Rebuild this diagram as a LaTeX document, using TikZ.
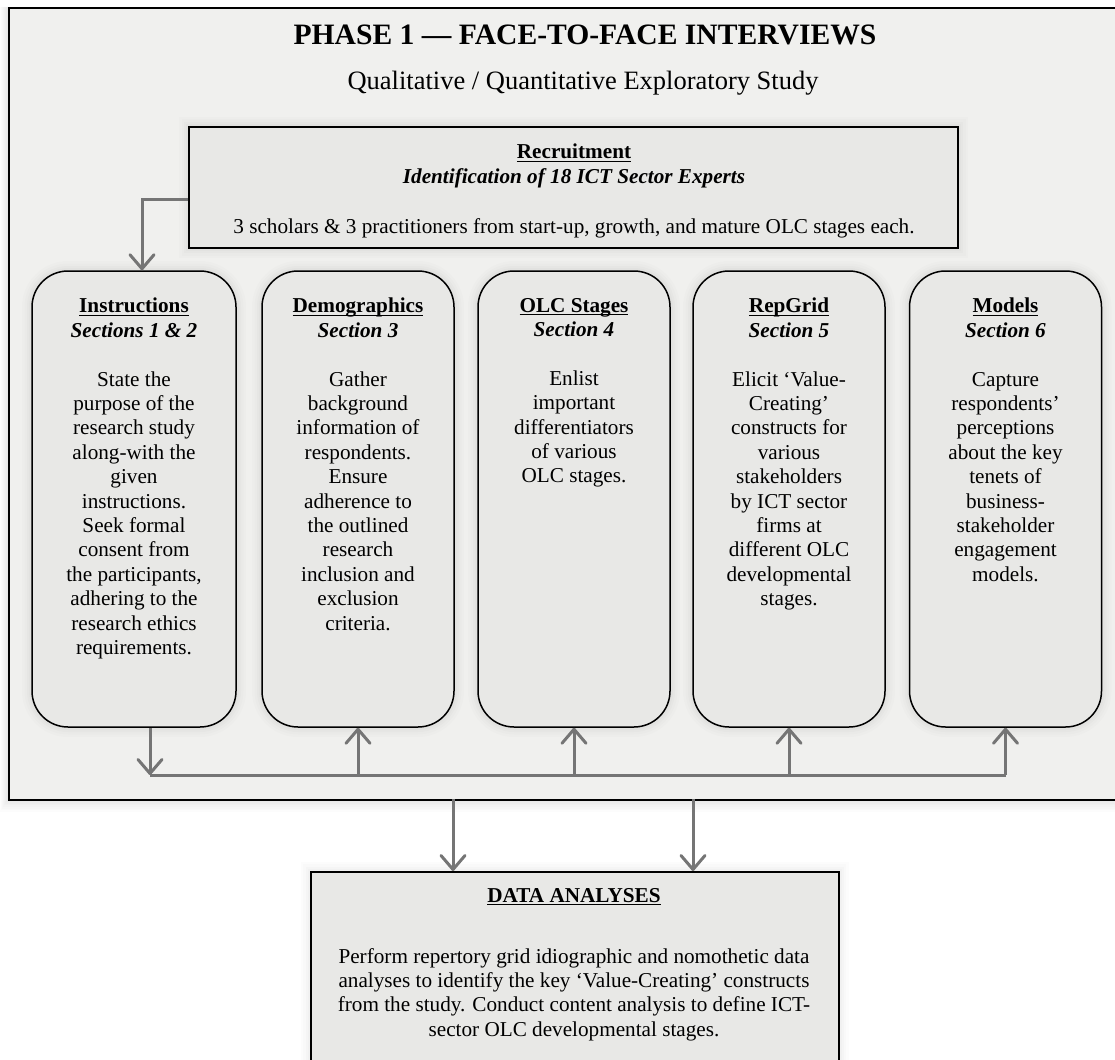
\documentclass[tikz,border=0pt]{standalone}
\usepackage{fontspec}
\setmainfont{Liberation Serif}
\usetikzlibrary{arrows.meta}
\definecolor{panelfill}{HTML}{F0F0EE}
\definecolor{cardfill}{HTML}{E8E8E6}
\definecolor{arrowgray}{HTML}{757575}
\newsavebox{\ulbox}
\newcommand{\ulword}[1]{\sbox{\ulbox}{#1}\rlap{\rule[-3pt]{\wd\ulbox}{1.3pt}}\usebox{\ulbox}}
\begin{document}
\begin{tikzpicture}[x=1pt,y=-1pt,
  glow/.style={preaction={draw=black, draw opacity=0.010, line width=20pt},
               preaction={draw=black, draw opacity=0.012, line width=15pt},
               preaction={draw=black, draw opacity=0.014, line width=10pt},
               preaction={draw=black, draw opacity=0.016, line width=6pt}},
  panel/.style={draw=black, line width=1.8pt, fill=panelfill},
  card/.style={glow, draw=black, line width=1.5pt, fill=cardfill, rounded corners=36pt, minimum width=192pt, minimum height=456pt, inner sep=0pt},
  flatcard/.style={glow, draw=black, line width=1.5pt, fill=cardfill, inner sep=0pt},
  bodytext/.style={font=\fontsize{21.2}{24.4}\selectfont, align=center, inner sep=0pt, anchor=north},
  flow/.style={draw=arrowgray, line width=3pt, -{Straight Barb[length=14pt, width=24pt, round]}},
  bus/.style={draw=arrowgray, line width=3pt}]

\useasboundingbox (0,0) rectangle (1115,1059);
\clip (0,0) rectangle (1115,1059);
\fill[white] (0,0) rectangle (1115,1059);

% soft shadow under the phase panel
\foreach \k in {1,...,8}{
  \fill[black, opacity=0.012] (8-\k,7) rectangle (1130,799+1.6*\k);
}
% phase panel (runs off the right edge)
\node[panel, minimum width=1122pt, minimum height=792pt, inner sep=0pt, anchor=north west] (phase) at (8,7) {};

\node[anchor=base, font=\bfseries\fontsize{29.6}{34}\selectfont] (title) at (585,45) {PHASE 1 — FACE-TO-FACE INTERVIEWS};
\node[anchor=base, font=\fontsize{26.5}{30}\selectfont] (subtitle) at (583,90) {Qualitative / Quantitative Exploratory Study};

% recruitment box
\node[flatcard, minimum width=769pt, minimum height=121pt] (recruit) at (573.5,187.5) {};
\node[bodytext] (recruittxt) at (574,143.9) {\ulword{\textbf{Recruitment}}\\
  \textbf{\textit{Identification of 18 ICT Sector Experts}}\\[26pt]
  3 scholars \& 3 practitioners from start-up, growth, and mature OLC stages each.};

% questionnaire section cards
\node[card, minimum width=204pt] (instr) at (134,499) {};
\node[card] (demo)  at (358,499) {};
\node[card] (olc)   at (574,499) {};
\node[card] (rep)   at (789,499) {};
\node[card] (model) at (1005.5,499) {};

\node[bodytext] (instrtxt) at (134,297.9) {\ulword{\textbf{Instructions}}\\
  \textbf{\textit{Sections 1 \& 2}}\\[24.4pt]
  State the\\ purpose of the\\ research study\\ along-with the\\ given\\ instructions.\\
  Seek formal\\ consent from\\ the participants,\\ adhering to the\\ research ethics\\ requirements.};
\node[bodytext] (demotxt) at (358,297.9) {\ulword{\textbf{Demographics}}\\
  \textbf{\textit{Section 3}}\\[24.4pt]
  Gather\\ background\\ information of\\ respondents.\\ Ensure\\ adherence to\\
  the outlined\\ research\\ inclusion and\\ exclusion\\ criteria.};
\node[bodytext] (olctxt) at (574,297.9) {\ulword{\textbf{OLC Stages}}\\
  \textbf{\textit{Section 4}}\\[24.4pt]
  Enlist\\ important\\ differentiators\\ of various\\ OLC stages.};
\node[bodytext] (reptxt) at (789,297.9) {\ulword{\textbf{RepGrid}}\\
  \textbf{\textit{Section 5}}\\[24.4pt]
  Elicit ‘Value-\\ Creating’\\ constructs for\\ various\\ stakeholders\\
  by ICT sector\\ firms at\\ different OLC\\ developmental\\ stages.};
\node[bodytext] (modeltxt) at (1005.5,297.9) {\ulword{\textbf{Models}}\\
  \textbf{\textit{Section 6}}\\[24.4pt]
  Capture\\ respondents’\\ perceptions\\ about the key\\ tenets of\\ business-\\
  stakeholder\\ engagement\\ models.};

% data analyses box (runs off the bottom edge)
\node[flatcard, minimum width=528pt, minimum height=200pt, anchor=north west] (data) at (310,871) {};
\node[bodytext] (datatxt) at (574,887.9) {\ulword{\textbf{DATA ANALYSES}}\\[36.6pt]
  Perform repertory grid idiographic and nomothetic data\\
  analyses to identify the key ‘Value-Creating’ constructs\\
  from the study. Conduct content analysis to define ICT-\\
  sector OLC developmental stages.};

% connectors
\coordinate (recturn) at (142,200);
\draw[flow] (recruit.west |- recturn) -- (recturn) -- (recturn |- instr.north);

\coordinate (busstart) at (150,775);
\coordinate (busend) at (1005.5,775);
\draw[bus] (busstart) -- (busend);
\draw[flow] (instr.south -| busstart) -- (busstart);
\draw[flow] (demo.south |- busstart) -- (demo.south);
\draw[flow] (olc.south |- busstart) -- (olc.south);
\draw[flow] (rep.south |- busstart) -- (rep.south);
\draw[flow] (busend) -- (model.south);

\coordinate (outL) at (453,799);
\coordinate (outR) at (693,799);
\draw[flow] (outL) -- (outL |- data.north);
\draw[flow] (outR) -- (outR |- data.north);
\end{tikzpicture}
\end{document}
